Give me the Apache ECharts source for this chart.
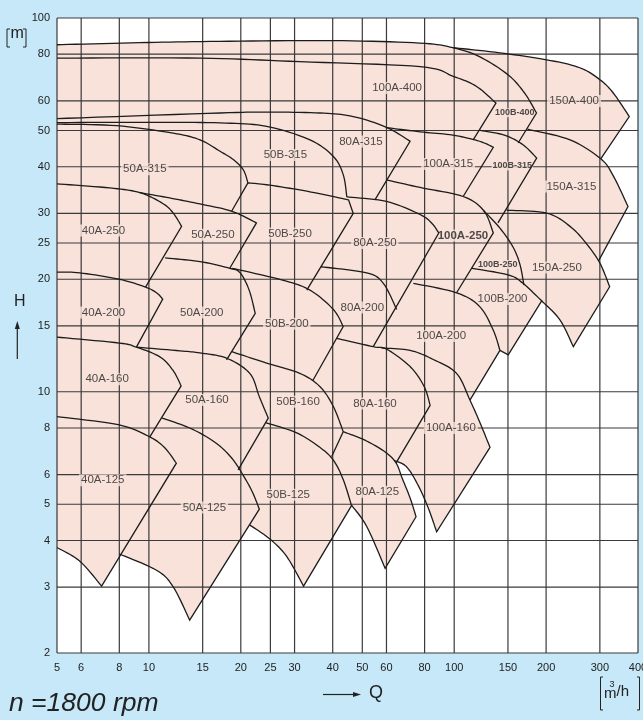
<!DOCTYPE html>
<html><head><meta charset="utf-8">
<script src="https://cdn.jsdelivr.net/npm/echarts@6/dist/echarts.min.js"></script>
<style>html,body{margin:0;padding:0;background:#c6e8f8;overflow:hidden;}#c{width:643px;height:720px;}</style>
</head><body><div id="c"></div>
<script>
// ---- axis ticks ----
const xTicks = [5,6,8,10,15,20,25,30,40,50,60,80,100,150,200,300,400];
const yTicks = [2,3,4,5,6,8,10,15,20,25,30,40,50,60,80,100];

// ---- region outlines: [Q m3/h, H m]; top curve -> tip -> lower edge (-> exposed bottom) ----
const c100B400 = [[5,84.8],[9.3,85.9],[17,86.6],[40,87],[77,85.7],[99,83.3],[121,78.8],[150,70.5],[170,63],[186,55.7],[162,46.3]];
const c150A400 = [[99,83.3],[141,80.7],[201,77.3],[258,73.6],[300,68.4],[332,63],[374.5,54.5],[302,42]];
const c100A400 = [[5,78.1],[14.7,78.1],[31.2,76.4],[77.3,74.1],[99.3,69.8],[118.4,65.6],[137,59.2],[115.4,47.2]];
const c80A315 = [[5,53.8],[17.1,55.7],[24.3,56],[36.3,55.7],[46.7,54.5],[60,51],[71.7,46.8],[55,32.6]];
const c50B315 = [[5,52.5],[10,52.6],[17.1,52.4],[24.3,51.3],[33.7,47.2],[40.2,42.6],[43.3,38.1],[44.5,33.2]];
const c50A315 = [[5,52],[7.85,51.5],[12,49.2],[14.7,47.2],[17.1,44],[18.9,41.8],[20.4,39.2],[21.1,36.2],[18.66,30.4]];
const c100A315 = [[60,50.9],[77.3,49.6],[99,48.6],[121,46.8],[134.3,45.1],[107,33.3]];
const c100B315 = [[120.5,50.1],[146,48.6],[168,45.8],[186.3,42.2],[139.1,28.3]];
const c150A315 = [[173.8,50.4],[239.6,47.2],[302,42],[332,37.8],[371,31.3],[298,22.5]];
const c40A250 = [[5,36],[7.45,35.1],[9.34,34.1],[11.1,31.9],[12,30.1],[12.8,27.7],[9.75,19.05]];
const c50A250 = [[9.34,34.1],[11.7,33],[14.7,31.8],[18.7,30.4],[22.5,28.3],[18.4,21.4]];
const c50B250 = [[21.1,36.2],[24.3,35.8],[32.9,34.4],[45.1,32.6],[46.7,30],[32.9,18.7]];
const c80A250 = [[44.5,33.2],[60,32.3],[77.3,29.8],[84.6,28.2],[89,26.6],[54.3,13.2]];
const c100A250 = [[60,36.9],[77.3,35.2],[107,33.3],[125,30.5],[134.3,26.6],[101.8,18.4]];
const c100B250 = [[125,30.5],[141.2,27.4],[155.8,24.4],[164.2,21.9],[169.2,19.3]];
const c150A250 = [[148.5,30.6],[200.9,30.06],[239.6,27.7],[270,25],[300,22.1],[323,19.1],[245.6,13.2],[222,15.57],[193.5,17.5]];
const c40A200 = [[5,20.9],[5.94,20.8],[8,20],[9.75,19.05],[10.59,18.4],[11.1,17.7],[9.1,13.16]];
const c50A200 = [[11.3,22.8],[14.7,22.3],[18.4,21.4],[19.9,20.8],[21.3,18.7],[22.3,16.2],[17.96,12.17]];
const c50B200 = [[18.7,21.4],[27.4,19.9],[33.7,18.7],[40.2,16.6],[43.3,14.95],[34.4,10.7]];
const c80A200 = [[36.6,21.6],[51.7,20.8],[58.6,19.5],[64.8,16.6]];
const c100A200 = [[73.5,19.5],[101.8,18.4],[121.2,16.9],[134.3,14.6],[141.2,12.9],[112.6,9.5]];
const c100B200 = [[114,21.4],[150.2,20.55],[168,19.5],[193.5,17.5],[150.3,12.55],[141.2,12.9]];
const c40A160 = [[5,14],[8,13.5],[9.1,13.16],[10.86,12.4],[12,11.4],[12.75,10.37],[10.07,7.57]];
const c50A160 = [[9.1,13.16],[12.63,12.87],[14.7,12.7],[17.96,12.3],[21.4,11.2],[23,9.7],[24.6,8.5],[19.6,6.18]];
const c50B160 = [[18.7,12.8],[24.3,11.93],[31.2,11.2],[36.3,10.33],[40.2,9.13],[43.3,7.82],[39.7,6.71]];
const c80A160 = [[41.2,13.9],[54.3,13.2],[60.1,13.0],[71.7,11.68],[79.7,10.33],[83.4,9.2],[64.5,6.45]];
const c100A160 = [[57.7,13.1],[71.7,12.9],[85.4,12.2],[101.8,11.2],[112.6,9.5],[121.2,8.3],[131,7.1],[87.6,4.22],[82.2,4.89],[76.1,5.63],[69.8,6.3],[63.9,6.54]];
const c40A125 = [[5,8.58],[8,8.15],[10.07,7.57],[11.27,7.08],[12.3,6.44],[7,3.02],[5.94,3.52],[5,3.83]];
const c50A125 = [[11.05,8.5],[13.6,8.0],[16.4,7.34],[18.7,6.64],[20.6,5.88],[21.9,5.36],[23,4.85],[13.6,2.45],[12,3.01],[10.59,3.33],[8,3.68]];
const c50B125 = [[24.2,8.26],[30.5,7.76],[36.3,7.1],[40.2,6.56],[43.3,5.82],[46.1,4.96],[32.1,3.02],[28.3,3.62],[24.96,4.03],[21.4,4.4]];
const c80A125 = [[43.3,7.82],[51,7.42],[59.4,6.9],[64.5,6.45],[67.5,5.88],[71.7,5.2],[75,4.63],[59.4,3.37],[51.7,4.36],[46.1,4.97]];

const curves = [c100B400,c150A400,c100A400,c80A315,c50B315,c50A315,c100A315,c100B315,c150A315,
 c40A250,c50A250,c50B250,c80A250,c100A250,c100B250,c150A250,c40A200,c50A200,c50B200,c80A200,c100A200,c100B200,
 c40A160,c50A160,c50B160,c80A160,c100A160,c40A125,c50A125,c50B125,c80A125];
// index range of the straight (max-flow) edge in each outline; points before/after are curved
const straightSpan = [[9,10],[6,7],[6,7],[6,7],[7,7],[7,8],[4,5],[3,4],[4,5],
 [5,6],[4,5],[3,5],[4,5],[4,5],[4,4],[5,6],[5,6],[5,6],[4,5],[3,3],[4,5],[3,5],
 [5,6],[6,7],[5,6],[5,6],[6,7],[4,5],[6,7],[5,6],[6,7]];

// ---- outer boundary of the shaded field: curved pieces, joined by straight edges ----
const pinkPieces = [
 [[5,84.8],[9.3,85.9],[17,86.6],[40,87],[77,85.7],[99,83.3],[141,80.7],[201,77.3],[258,73.6],[300,68.4],[332,63],[374.5,54.5]],
 [[302,42],[332,37.8],[371,31.3]],
 [[298,22.5],[300,22.1],[323,19.1]],
 [[245.6,13.2],[222,15.57],[193.5,17.5]],
 [[150.3,12.55]],
 [[141.2,12.9]],
 [[112.6,9.5],[121.2,8.3],[131,7.1]],
 [[87.6,4.22],[82.2,4.89],[76.1,5.63],[69.8,6.3],[63.9,6.54]],
 [[64.5,6.45],[67.5,5.88],[71.7,5.2],[75,4.63]],
 [[59.4,3.37],[51.7,4.36],[46.1,4.97]],
 [[32.1,3.02],[28.3,3.62],[24.96,4.03],[21.4,4.4]],
 [[13.6,2.45],[12,3.01],[10.59,3.33],[8,3.68]],
 [[7,3.02],[5.94,3.52],[5,3.83]]
];

// ---- region labels ----
const labelNames = ['40A-125','40A-160','40A-200','40A-250','50A-315','50A-250','50A-200','50A-160','50A-125',
 '50B-315','50B-250','50B-200','50B-160','50B-125','80A-315','80A-250','80A-200','80A-160','80A-125',
 '100A-400','100A-315','100A-250','100A-200','100A-160','100B-400','100B-315','100B-250','100B-200',
 '150A-400','150A-315','150A-250'];
const labelPos = [[7.06,5.8],[7.3,10.8],[7.1,16.3],[7.1,27],[9.7,39.4],[16.2,26.3],[14.9,16.3],[15.5,9.5],[15.2,4.9],
 [28,43],[29,26.5],[28.3,15.2],[30.8,9.4],[28.6,5.3],[49.5,46.7],[55,25],[50,16.8],[55,9.3],[56,5.4],
 [65,65],[95.5,40.7],[106.8,26.2],[90.6,14.1],[97.5,8],[158,55.8],[155,40.2],[139,21.9],[144,17.7],
 [247,60],[242,35.4],[217,21.5]];
const smallLabels = ['100B-400','100B-315','100B-250'];
const boldLabels = ['100A-250'];

const L = v => Math.log10(v);
const X0 = L(5), X1 = L(400), Y0 = L(2), Y1 = L(100);
const PINK = '#f8e2da';
const FONT = 'Liberation Sans, Arial, sans-serif';

// Catmull-Rom smoothing of pixel points (drawing only)
function spline(px) {
  if (px.length < 3) return px.slice();
  const out = [px[0]], n = px.length;
  for (let i = 0; i < n - 1; i++) {
    const p0 = px[Math.max(i - 1, 0)], p1 = px[i], p2 = px[i + 1], p3 = px[Math.min(i + 2, n - 1)];
    for (let s = 1; s <= 10; s++) {
      const t = s / 10, t2 = t * t, t3 = t2 * t;
      const f = k => 0.5 * (2 * p1[k] + (-p0[k] + p2[k]) * t + (2 * p0[k] - 5 * p1[k] + 4 * p2[k] - p3[k]) * t2 + (-p0[k] + 3 * p1[k] - 3 * p2[k] + p3[k]) * t3);
      out.push([f(0), f(1)]);
    }
  }
  return out;
}
const toPx = (api, p) => api.coord([L(p[0]), L(p[1])]);

const chart = echarts.init(document.getElementById('c'));
const gridData = xTicks.map(t => [L(t), Y0, 0]).concat(yTicks.map(t => [X0, L(t), 1]));

chart.setOption({
  animation: false,
  grid: {left: 57, top: 18, width: 581, height: 635, show: true, backgroundColor: '#ffffff', borderWidth: 0,
    containLabel: false, outerBoundsMode: 'none'},
  xAxis: {type: 'value', min: X0, max: X1, splitLine: {show: false}, axisLine: {show: false}, axisTick: {show: false},
    axisLabel: {customValues: xTicks.map(L), formatter: v => String(Math.round(Math.pow(10, v))), color: '#222', fontSize: 11, margin: 9, fontFamily: FONT}},
  yAxis: {type: 'value', min: Y0, max: Y1, splitLine: {show: false}, axisLine: {show: false}, axisTick: {show: false},
    axisLabel: {customValues: yTicks.map(L), formatter: v => String(Math.round(Math.pow(10, v))), color: '#222', fontSize: 11, margin: 7, fontFamily: FONT}},
  graphic: [
    {type: 'polyline', shape: {points: [[10,29],[7,29],[7,47],[10,47]]}, style: {stroke: '#222', lineWidth: 1, fill: 'none'}},
    {type: 'polyline', shape: {points: [[23,29],[26,29],[26,47],[23,47]]}, style: {stroke: '#222', lineWidth: 1, fill: 'none'}},
    {type: 'text', left: 10.5, top: 26, style: {text: 'm', font: '16px ' + FONT, fill: '#222'}},
    {type: 'text', left: 14, top: 294, style: {text: 'H', font: '16px ' + FONT, fill: '#222'}},
    {type: 'line', shape: {x1: 17.3, y1: 327, x2: 17.3, y2: 359}, style: {stroke: '#222', lineWidth: 1.2}},
    {type: 'polygon', shape: {points: [[17.3,321],[14.8,329],[19.8,329]]}, style: {fill: '#222'}},
    {type: 'line', shape: {x1: 323, y1: 694.5, x2: 355, y2: 694.5}, style: {stroke: '#222', lineWidth: 1.2}},
    {type: 'polygon', shape: {points: [[361,694.5],[353,692],[353,697]]}, style: {fill: '#222'}},
    {type: 'text', left: 369, top: 684, style: {text: 'Q', font: '18px ' + FONT, fill: '#222'}},
    {type: 'polyline', shape: {points: [[603,677],[600.5,677],[600.5,710],[603,710]]}, style: {stroke: '#222', lineWidth: 1, fill: 'none'}},
    {type: 'polyline', shape: {points: [[637,677],[639.5,677],[639.5,710],[637,710]]}, style: {stroke: '#222', lineWidth: 1, fill: 'none'}},
    {type: 'text', left: 604, top: 686, style: {text: 'm', font: '15px ' + FONT, fill: '#222'}},
    {type: 'text', left: 609.5, top: 680, style: {text: '3', font: '9px ' + FONT, fill: '#222'}},
    {type: 'text', left: 616.5, top: 684, style: {text: '/h', font: '15px ' + FONT, fill: '#222'}},
    {type: 'text', left: 9, top: 690, style: {text: 'n =1800 rpm', font: 'italic 26.5px ' + FONT, fill: '#222'}}
  ],
  series: [
    {type: 'custom', z: 1, silent: true, data: [[L(5), L(84.8), 0]], encode: {x: 0, y: 1},
      renderItem: (params, api) => {
        let pts = [];
        pinkPieces.forEach(pc => { pts = pts.concat(spline(pc.map(p => toPx(api, p)))); });
        return {type: 'polygon', shape: {points: pts}, style: {fill: PINK, stroke: 'none'}};
      }},
    {type: 'custom', z: 2, silent: true, data: gridData, encode: {x: 0, y: 1},
      renderItem: (params, api) => {
        const k = api.value(2);
        const a = k === 0 ? api.coord([api.value(0), Y0]) : api.coord([X0, api.value(1)]);
        const b = k === 0 ? api.coord([api.value(0), Y1]) : api.coord([X1, api.value(1)]);
        return {type: 'line', shape: {x1: a[0], y1: a[1], x2: b[0], y2: b[1]}, style: {stroke: '#3a3a3a', lineWidth: 1.2}};
      }},
    {type: 'scatter', z: 3, silent: true, symbolSize: 1, itemStyle: {color: 'rgba(0,0,0,0)'},
      data: labelNames.map((n, i) => {
        const small = smallLabels.includes(n), bold = boldLabels.includes(n);
        return {name: n, value: [L(labelPos[i][0]), L(labelPos[i][1])],
          label: {show: true, position: 'inside', formatter: n, color: '#222', fontFamily: FONT,
            fontSize: small ? 9 : 11.5, fontWeight: (small || bold) ? 'bold' : 'normal',
            backgroundColor: PINK, padding: small ? [0, 1] : [0, 2]}};
      })},
    {type: 'custom', z: 4, silent: true, data: curves.map((c, i) => [L(c[0][0]), L(c[0][1]), i]), encode: {x: 0, y: 1},
      renderItem: (params, api) => {
        const i = api.value(2), c = curves[i], sp = straightSpan[i];
        const px = c.map(p => toPx(api, p));
        let pts = spline(px.slice(0, sp[0] + 1));
        for (let j = sp[0] + 1; j <= sp[1]; j++) pts.push(px[j]);
        if (sp[1] < px.length - 1) pts = pts.concat(spline(px.slice(sp[1])).slice(1));
        return {type: 'polyline', shape: {points: pts}, style: {stroke: '#1c1c1c', lineWidth: 1.3, fill: 'none'}};
      }}
  ]
});
</script></body></html>
